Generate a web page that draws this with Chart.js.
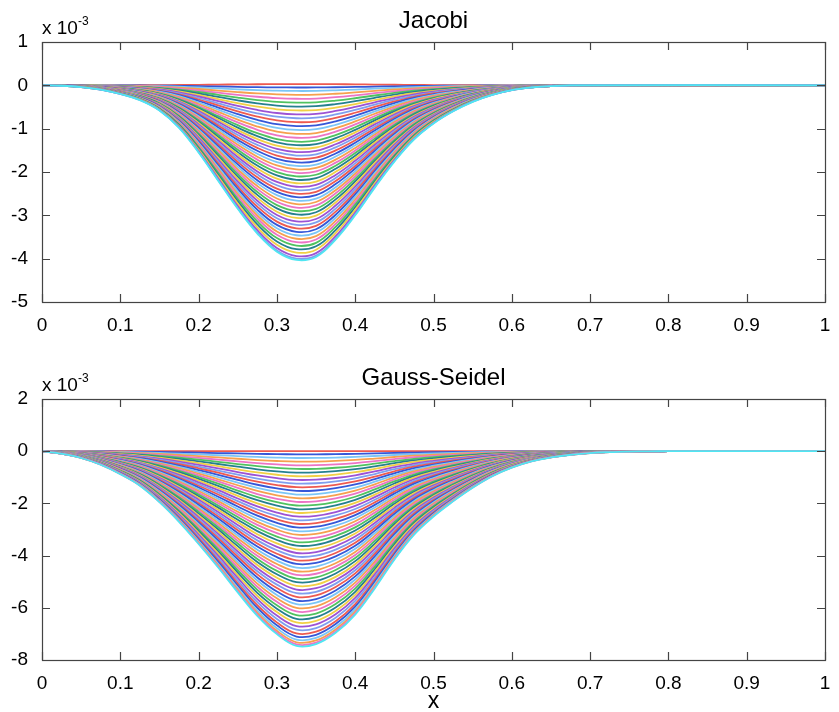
<!DOCTYPE html>
<html>
<head>
<meta charset="utf-8">
<script src="https://cdn.jsdelivr.net/npm/chart.js@4.4.0/dist/chart.umd.min.js"></script>
<style>
  html, body { margin: 0; padding: 0; background: #fff; }
  #wrap { position: relative; width: 839px; height: 712px; }
  canvas { position: absolute; left: 0; }
</style>
</head>
<body>
<div id="wrap">
  <canvas id="jacobi" width="839" height="356" style="top:0"></canvas>
  <canvas id="gauss" width="839" height="356" style="top:356px"></canvas>
</div>
<script>
// values are in units of 1e-3 (axis shows "x 10^-3")
const xJacobi = [0, 0.025, 0.05, 0.075, 0.1, 0.125, 0.15, 0.175, 0.2, 0.225, 0.25, 0.275, 0.3, 0.325,
  0.35, 0.375, 0.4, 0.425, 0.45, 0.475, 0.5, 0.525, 0.55, 0.575, 0.6, 0.625, 0.65, 0.675, 1];
// converged (outermost) Jacobi profile
const jacobiFinal = [0, -0.01, -0.04, -0.1, -0.2, -0.34, -0.58, -0.98, -1.55, -2.2, -2.85, -3.42, -3.84, -4.03,
  -3.96, -3.56, -3.0, -2.36, -1.76, -1.25, -0.88, -0.6, -0.38, -0.22, -0.11, -0.05, -0.02, 0, 0];
// depth at the centre for each iterate
const jacobiDepths = [0.03, -0.05, -0.13, -0.22, -0.31, -0.40, -0.49, -0.58, -0.67, -0.76, -0.85, -0.94,
  -1.03, -1.12, -1.21, -1.30, -1.38, -1.46, -1.54, -1.62, -1.70, -1.78, -1.86, -1.94, -2.02, -2.10,
  -2.18, -2.26, -2.34, -2.42, -2.50, -2.58, -2.66, -2.74, -2.82, -2.90, -2.98, -3.06, -3.14, -3.22,
  -3.30, -3.38, -3.46, -3.54, -3.62, -3.70, -3.78, -3.86, -3.94, -4.00, -4.03];

const xGauss = [0, 0.025, 0.05, 0.075, 0.1, 0.125, 0.15, 0.175, 0.2, 0.225, 0.25, 0.275, 0.3, 0.325,
  0.35, 0.375, 0.4, 0.425, 0.45, 0.475, 0.5, 0.525, 0.55, 0.575, 0.6, 0.625, 0.65, 0.675, 0.7, 0.725,
  0.75, 0.775, 0.8, 1];
const gaussFinal = [0, -0.1, -0.26, -0.52, -0.88, -1.32, -1.95, -2.7, -3.55, -4.45, -5.4, -6.3, -7.0, -7.45,
  -7.38, -6.95, -6.25, -5.25, -4.15, -3.2, -2.5, -1.92, -1.4, -0.96, -0.63, -0.39, -0.24, -0.14, -0.07, -0.035,
  -0.015, -0.005, 0, 0];
const gaussDepths = [0.0, -0.12, -0.26, -0.40, -0.54, -0.68, -0.82, -0.96, -1.10, -1.24, -1.38, -1.52,
  -1.66, -1.80, -1.94, -2.08, -2.22, -2.36, -2.50, -2.64, -2.78, -2.92, -3.06, -3.20, -3.34, -3.48,
  -3.62, -3.76, -3.90, -4.04, -4.18, -4.32, -4.46, -4.60, -4.74, -4.88, -5.02, -5.16, -5.30, -5.44,
  -5.58, -5.72, -5.86, -6.00, -6.14, -6.28, -6.42, -6.56, -6.70, -6.84, -6.98, -7.10, -7.22, -7.32,
  -7.40, -7.46];

const xTicks = [0, 0.1, 0.2, 0.3, 0.4, 0.5, 0.6, 0.7, 0.8, 0.9, 1];
const jacobiYTicks = [1, 0, -1, -2, -3, -4, -5];
const gaussYTicks = [2, 0, -2, -4, -6, -8];

const lineColors = ['#ee5a50', '#3557d8', '#7cc6f6', '#f6a04e', '#ec74c6', '#4fc25f',
  '#25808f', '#f1cf45', '#9d52d4', '#7f9fee'];
const lastColor = '#4fe6f2';
const FONT = "'Liberation Sans', Arial, sans-serif";

function makeSets(xs, final, depths) {
  const deepest = Math.min(...final);
  return depths.map((d, k) => ({
    data: xs.map((x, i) => ({ x: x, y: final[i] * d / deepest })),
    borderColor: k === depths.length - 1 ? lastColor : lineColors[k % lineColors.length],
    borderWidth: 1.8,
    pointRadius: 0,
    tension: 0.4,
    fill: false,
    order: depths.length - k   // later iterates drawn on top
  }));
}

const frame = {
  id: 'frame',
  afterDraw(chart, args, o) {
    const ctx = chart.ctx;
    const a = chart.chartArea;
    const x = chart.scales.x, y = chart.scales.y;
    ctx.save();
    ctx.strokeStyle = '#444';
    ctx.lineWidth = 1.2;
    ctx.beginPath();
    x.ticks.forEach(t => {
      const px = Math.round(x.getPixelForValue(t.value)) + 0.5;
      ctx.moveTo(px, a.bottom); ctx.lineTo(px, a.bottom - 8);
      ctx.moveTo(px, a.top); ctx.lineTo(px, a.top + 8);
    });
    y.ticks.forEach(t => {
      const py = Math.round(y.getPixelForValue(t.value)) + 0.5;
      ctx.moveTo(a.left, py); ctx.lineTo(a.left + 8, py);
      ctx.moveTo(a.right, py); ctx.lineTo(a.right - 8, py);
    });
    ctx.stroke();
    ctx.strokeRect(Math.round(a.left) + 0.5, Math.round(a.top) + 0.5,
      Math.round(a.width), Math.round(a.height));

    ctx.fillStyle = '#000';
    ctx.textAlign = 'center';
    ctx.textBaseline = 'alphabetic';
    ctx.font = '24px ' + FONT;
    ctx.fillText(o.title, (a.left + a.right) / 2, o.titleY);

    ctx.textAlign = 'left';
    ctx.font = '19px ' + FONT;
    ctx.fillText('x 10', a.left, o.expY);
    ctx.font = '12px ' + FONT;
    ctx.fillText('-3', a.left + 36, o.expY - 9);

    if (o.xLabel) {
      ctx.textAlign = 'center';
      ctx.font = '23px ' + FONT;
      ctx.fillText(o.xLabel, (a.left + a.right) / 2, o.xLabelY);
    }
    ctx.restore();
  }
};

function makeChart(id, xs, final, depths, yTicks, opts) {
  return new Chart(document.getElementById(id).getContext('2d'), {
    type: 'line',
    data: { datasets: makeSets(xs, final, depths) },
    plugins: [frame],
    options: {
      responsive: false,
      animation: false,
      devicePixelRatio: 1,
      layout: { padding: { top: opts.top, right: 14, left: 0, bottom: 0 } },
      plugins: {
        legend: { display: false },
        tooltip: { enabled: false },
        frame: opts
      },
      scales: {
        x: {
          type: 'linear',
          min: 0, max: 1,
          grid: { display: false },
          border: { display: false },
          afterBuildTicks: s => { s.ticks = xTicks.map(v => ({ value: v })); },
          afterFit: s => { s.height = opts.xHeight; },
          ticks: {
            padding: 4,
            color: '#000',
            font: { family: FONT, size: 19 },
            maxRotation: 0,
            callback: v => String(Math.round(v * 10) / 10)
          }
        },
        y: {
          min: yTicks[yTicks.length - 1], max: yTicks[0],
          grid: { display: false },
          border: { display: false },
          afterBuildTicks: s => { s.ticks = yTicks.map(v => ({ value: v })); },
          afterFit: s => { s.width = 42; },
          ticks: {
            padding: 6,
            color: '#000',
            font: { family: FONT, size: 19 },
            callback: v => String(v)
          }
        }
      }
    }
  });
}

makeChart('jacobi', xJacobi, jacobiFinal, jacobiDepths, jacobiYTicks,
  { top: 42, xHeight: 54, title: 'Jacobi', titleY: 28, expY: 34 });
makeChart('gauss', xGauss, gaussFinal, gaussDepths, gaussYTicks,
  { top: 43, xHeight: 52, title: 'Gauss-Seidel', titleY: 29, expY: 35, xLabel: 'x', xLabelY: 352 });
</script>
</body>
</html>
